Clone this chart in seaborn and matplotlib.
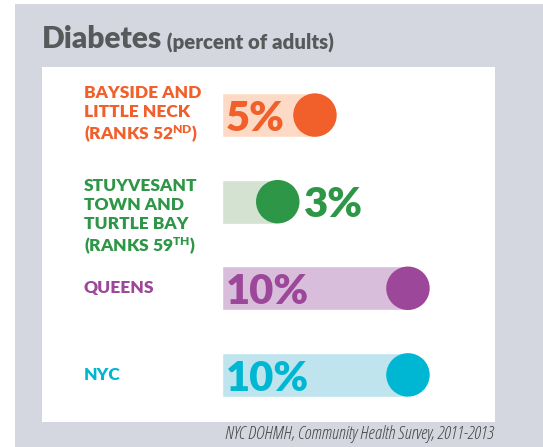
import matplotlib
matplotlib.use("Agg")
import matplotlib.pyplot as plt
import seaborn as sns
import pandas as pd
from matplotlib.patches import Rectangle
from matplotlib.transforms import blended_transform_factory

# ---------------- data ----------------
keys = ["Bayside", "Stuyvesant", "Queens", "NYC"]
row_labels = [
    "BAYSIDE AND\nLITTLE NECK\n(RANKS 52$^{\\mathrm{ND}}$)",
    "STUYVESANT\nTOWN AND\nTURTLE BAY\n(RANKS 59$^{\\mathrm{TH}}$)",
    "QUEENS",
    "NYC",
]
values = [5, 3, 10, 10]
value_labels = ["5%", "3%", "10%", "10%"]
dark_colors = ["#F15F2A", "#2E9647", "#9C479A", "#00B7D3"]
light_colors = ["#FDDAC6", "#D4E2D2", "#D8BEDB", "#BFE4EE"]
title = "Diabetes"
subtitle = "(percent of adults)"
source = "NYC DOHMH, Community Health Survey, 2011-2013"

# ---------------- style ----------------
W, H, DPI = 543, 447, 100
BG = "#D4D7DF"
TITLE_C = "#58595B"

sns.set_theme(style="white")
plt.rcParams["font.family"] = ["Lato", "DejaVu Sans"]
plt.rcParams["mathtext.fontset"] = "custom"
plt.rcParams["mathtext.rm"] = "Lato:weight=heavy"
plt.rcParams["mathtext.bf"] = "Lato:weight=heavy"
plt.rcParams["mathtext.it"] = "Lato:weight=heavy"

fig = plt.figure(figsize=(W / DPI, H / DPI), dpi=DPI)
fig.patch.set_facecolor(BG)
fig.patches.append(Rectangle((0, 0), 15 / W, 1, transform=fig.transFigure,
                             facecolor="white", edgecolor="none", zorder=0))
fig.patches.append(Rectangle((0, 1 - 4 / H), 1, 4 / H, transform=fig.transFigure,
                             facecolor="white", edgecolor="none", zorder=0))

ax = fig.add_axes([42 / W, 1 - 422 / H, (495 - 42) / W, (422 - 67) / H])
ax.set_facecolor("white")

df = pd.DataFrame({"key": keys, "value": values})

sns.barplot(data=df, x="value", y="key", hue="key", order=keys, hue_order=keys,
            palette=light_colors, saturation=1, width=0.508, errorbar=None,
            legend=False, ax=ax, zorder=1)
sns.scatterplot(data=df, x="value", y="key", hue="key", hue_order=keys,
                palette=dark_colors, s=980, linewidth=0, legend=False,
                ax=ax, zorder=3)

ax.set_xlim(-9.677, 14.68)
ax.set_ylim(3.544, -0.555)
for sp in ax.spines.values():
    sp.set_visible(False)
ax.set_xticks([])
ax.set_yticks([])
ax.set_xlabel("")
ax.set_ylabel("")

# row labels
trans = blended_transform_factory(fig.transFigure, ax.transData)
for i, (lab, col) in enumerate(zip(row_labels, dark_colors)):
    nlines = lab.count("\n") + 1
    if nlines > 3:
        ax.text(84 / W, i - 0.254 - 0.02, lab, transform=trans, ha="left", va="top",
                fontsize=12.5, fontweight="heavy", color=col, linespacing=1.22)
    else:
        ax.text(84 / W, i, lab, transform=trans, ha="left", va="center",
                fontsize=12.5, fontweight="heavy", color=col, linespacing=1.22)

# value labels
for i, (v, lab, col) in enumerate(zip(values, value_labels, dark_colors)):
    if v >= 5:
        ax.annotate(lab, xy=(0, i), xytext=(3, -11.3), textcoords="offset points",
                    ha="left", va="baseline", fontsize=30, fontweight="heavy", color=col,
                    zorder=4)
    else:
        ax.annotate(lab, xy=(v, i), xytext=(19, -11.3), textcoords="offset points",
                    ha="left", va="baseline", fontsize=30, fontweight="heavy", color=col,
                    zorder=4)

# title
t = fig.text(42 / W, 1 - 48 / H, title, ha="left", va="baseline",
             fontsize=21.5, fontweight="heavy", color=TITLE_C)
ax.annotate(" " + subtitle, xy=(1, 0), xycoords=t, va="bottom", ha="left",
            fontsize=14.7, fontweight="heavy", color=TITLE_C, annotation_clip=False)

# source
fig.text(494 / W, 1 - 439 / H, source, ha="right", va="baseline",
         fontsize=13, style="italic", color="#444444",
         family="Open Sans", fontstretch="condensed")

fig.savefig("out.png", dpi=DPI, facecolor=fig.get_facecolor())
